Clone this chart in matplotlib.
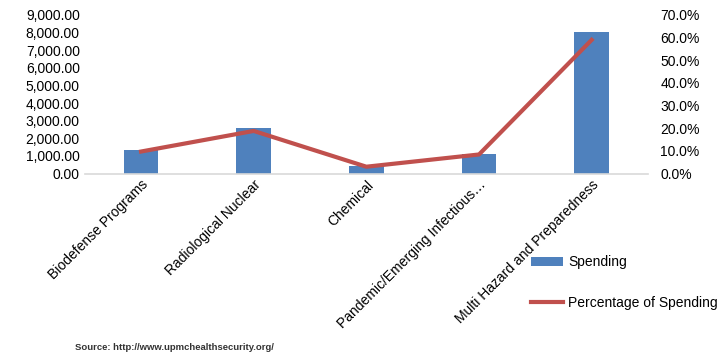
import matplotlib
matplotlib.use("Agg")
import matplotlib.pyplot as plt
from matplotlib.ticker import FuncFormatter, MultipleLocator

categories = ["Biodefense Programs", "Radiological Nuclear", "Chemical",
              "Pandemic/Emerging Infectious…", "Multi Hazard and Preparedness"]
spending = [1360, 2590, 410, 1130, 8020]
pct_spending = [9.7, 18.8, 3.0, 8.4, 59.0]

plt.rcParams['font.family'] = ['Liberation Sans', 'DejaVu Sans']

fig = plt.figure(figsize=(7.24, 3.57), dpi=100)
ax = fig.add_axes([0.117, 0.514, 0.778, 0.444])
x = list(range(len(categories)))
bars = ax.bar(x, spending, width=0.31, color='#4F81BD', label='Spending', zorder=2)
ax.set_xlim(-0.5, len(categories) - 0.5)
ax.set_ylim(0, 9000)
ax.yaxis.set_major_locator(MultipleLocator(1000))
ax.yaxis.set_major_formatter(FuncFormatter(lambda v, p: f"{v:,.2f}"))
for s in ['top', 'right', 'left']:
    ax.spines[s].set_visible(False)
ax.spines['bottom'].set_color('#D9D9D9')
ax.spines['bottom'].set_linewidth(1.2)
ax.tick_params(axis='both', length=0, labelsize=10, colors='black')
ax.set_xticks(x)
ax.set_xticklabels(categories, rotation=45, ha='right', rotation_mode='anchor')
ax.tick_params(axis='x', pad=3)

ax2 = ax.twinx()
line, = ax2.plot(x, pct_spending, color='#C0504D', linewidth=3, label='Percentage of Spending', zorder=3)
ax2.set_ylim(0, 70)
ax2.yaxis.set_major_locator(MultipleLocator(10))
ax2.yaxis.set_major_formatter(FuncFormatter(lambda v, p: f"{v:.1f}%"))
for s in ['top', 'right', 'left', 'bottom']:
    ax2.spines[s].set_visible(False)
ax2.tick_params(axis='y', length=0, labelsize=10, pad=9)

fig.legend(handles=[bars, line], labels=['Spending', 'Percentage of Spending'],
           loc='upper left', bbox_to_anchor=(0.716, 0.32), frameon=False,
           fontsize=10, labelspacing=1.95, handlelength=2.3, handletextpad=0.4)

fig.text(0.104, 0.028, "Source: http://www.upmchealthsecurity.org/", fontsize=6.8,
         fontweight='bold', color='#333333', ha='left', va='center')

fig.savefig('out.png', dpi=100)
